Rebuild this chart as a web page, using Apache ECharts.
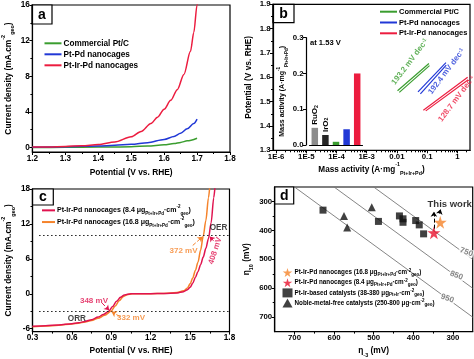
<!DOCTYPE html>
<html><head><meta charset="utf-8">
<script src="https://cdn.jsdelivr.net/npm/echarts@6/dist/echarts.min.js"></script>
<style>html,body{margin:0;padding:0;background:#fff}#c{width:474px;height:359px}</style>
</head><body><div id="c"></div>
<script>
// ---------- Panel a : LSV (OER) ----------
const aPotGreen = [1.2, 1.3, 1.4, 1.5, 1.55, 1.6, 1.63, 1.65, 1.67, 1.7];
const aGreen    = [0.0, 0.02, 0.05, 0.1, 0.17, 0.3, 0.45, 0.58, 0.75, 1.05];
const aPotBlue  = [1.2, 1.3, 1.4, 1.45, 1.5, 1.55, 1.6, 1.63, 1.65, 1.67, 1.69, 1.7];
const aBlue     = [0.04, 0.1, 0.18, 0.25, 0.36, 0.55, 0.9, 1.25, 1.6, 2.1, 2.7, 3.2];
const aPotRed   = [1.2, 1.25, 1.3, 1.35, 1.4, 1.45, 1.5, 1.53, 1.56, 1.58, 1.6, 1.62, 1.64, 1.66, 1.68, 1.69, 1.7, 1.705];
const aRed      = [0.05, 0.07, 0.12, 0.2, 0.33, 0.62, 1.2, 1.8, 2.7, 3.4, 4.3, 5.3, 6.5, 8.2, 10.8, 12.9, 16, 17.5];
const aXTicks = [1.2, 1.3, 1.4, 1.5, 1.6, 1.7, 1.8];
const aYTicks = [0, 4, 8, 12, 16];
const seriesNames = ['Commercial Pt/C', 'Pt-Pd nanocages', 'Pt-Ir-Pd nanocages'];

// ---------- Panel b : Tafel + inset ----------
const bGreen1 = [[0.0105, 1.545], [0.115, 1.657]];
const bGreen2 = [[0.012, 1.538], [0.12, 1.648]];
const bBlue1  = [[0.05, 1.54], [0.42, 1.66]];
const bBlue2  = [[0.06, 1.532], [0.43, 1.65]];
const bRed1   = [[0.075, 1.465], [2.2, 1.60]];
const bRed2   = [[0.09, 1.462], [2.3, 1.59]];
const bSlopes = ['193.2', '192.4', '128.7'];
const bXTicks = [1e-6, 1e-5, 1e-4, 1e-3, 0.01, 0.1, 1];
const bYTicks = [1.3, 1.4, 1.5, 1.6, 1.7, 1.8, 1.9];
const insetCats = ['RuO2', 'IrO2', 'Pt/C', 'Pt-Pd', 'Pt-Ir-Pd'];
const insetVals = [0.048, 0.028, 0.009, 0.044, 0.2];
const insetYTicks = [0, 0.1, 0.2, 0.3];

// ---------- Panel c : ORR / OER ----------
const cPotRed = [0.3, 0.4, 0.5, 0.6, 0.65, 0.7, 0.75, 0.8, 0.84, 0.88, 0.91, 0.94, 0.97, 1.0, 1.05, 1.1, 1.2, 1.3, 1.4, 1.45, 1.48, 1.5, 1.52, 1.54, 1.56, 1.58, 1.6, 1.62, 1.64, 1.66, 1.68, 1.69];
const cRed    = [-5.6, -5.5, -5.35, -5.15, -5.0, -4.75, -4.45, -4.0, -3.55, -3.0, -2.2, -1.3, -0.6, -0.2, 0.0, 0.02, 0.02, 0.05, 0.15, 0.35, 0.7, 1.1, 1.8, 2.8, 3.8, 5.0, 6.3, 7.8, 9.5, 12.2, 16.5, 18.5];
const cPotOrange = [0.3, 0.4, 0.5, 0.6, 0.65, 0.7, 0.75, 0.8, 0.85, 0.9, 0.93, 0.96, 0.99, 1.02, 1.06, 1.1, 1.2, 1.3, 1.4, 1.45, 1.48, 1.5, 1.52, 1.54, 1.56, 1.58, 1.6, 1.62, 1.64, 1.65];
const cOrange    = [-5.65, -5.55, -5.4, -5.2, -5.05, -4.85, -4.6, -4.2, -3.7, -2.95, -2.1, -1.2, -0.5, -0.15, 0.0, 0.0, 0.02, 0.05, 0.2, 0.5, 1.0, 1.7, 2.7, 4.0, 5.4, 7.5, 9.9, 12.6, 16.5, 18.5];
const cXTicks = [0.3, 0.6, 0.9, 1.2, 1.5, 1.8];
const cYTicks = [-6, 0, 6, 12, 18];
const cRefCurrents = [10, -3];

// ---------- Panel d : overpotential map ----------
const dStar168 = [[332, 372]];
const dStar84  = [[348, 408]];
const dPtIr = [[628, 330], [488, 369], [435, 350], [426, 360], [426, 372], [394, 366], [385, 381], [374, 412]];
const dNMF  = [[505, 320], [575, 350], [567, 390]];
const dIsoSums = [750, 850, 950];
const dTicks = [300, 400, 500, 600, 700];

// ---------- styling ----------
const FF = "'Liberation Sans',Arial,sans-serif";
const BLK = '#000';
const GREEN = '#3a9d2f', BLUE = '#2138d6', RED = '#ec1c3f', CRIMSON = '#e0134f', ORANGE = '#f5832b', GRAY = '#777';

function rich(fs, color) {
  const s = Math.max(4.5, fs * 0.65);
  return {
    sup: {fontSize: s, lineHeight: s, verticalAlign: 'top', fontWeight: 'bold', fontFamily: FF, color: color},
    sub: {fontSize: s, lineHeight: s, verticalAlign: 'bottom', fontWeight: 'bold', fontFamily: FF, color: color}
  };
}
function axis(o) {
  const nfs = o.nfs || 8.4;
  const a = {
    type: o.type || 'value', gridIndex: o.grid, position: o.pos,
    min: o.min, max: o.max, inverse: !!o.inverse, offset: o.offset || 0,
    axisLine: {show: o.line !== false, onZero: false, lineStyle: {color: BLK, width: 1.2}},
    axisTick: {show: !!o.ticks, length: o.tickLen || 3, inside: false, lineStyle: {color: BLK, width: 1}, customValues: o.ticks},
    axisLabel: {show: !!o.labels, customValues: o.ticks, formatter: o.fmt, color: BLK, fontFamily: FF, fontWeight: 'bold', fontSize: o.fs || 8.2, margin: 2.5},
    splitLine: {show: false}, minorTick: {show: false},
    name: o.name || '', nameLocation: 'middle', nameGap: o.nameGap || 20,
    nameTextStyle: {color: BLK, fontFamily: FF, fontWeight: 'bold', fontSize: nfs, lineHeight: nfs + 6, rich: rich(nfs, BLK)},
    silent: true
  };
  if (o.type === 'log') a.logBase = 10;
  if (o.type === 'category') { a.data = o.data; a.boundaryGap = true; }
  return a;
}
function minor(grid, pos, type, min, max, ticks, inverse) {
  return axis({grid: grid, pos: pos, type: type, min: min, max: max, inverse: inverse, line: false, ticks: ticks, tickLen: 2, labels: false});
}
const zip = (xs, ys) => xs.map((x, i) => [x, ys[i]]);
const logFmt = v => v < 0.005 ? '1E' + Math.round(Math.log10(v)) : String(+v.toPrecision(1));
const lineBase = {type: 'line', showSymbol: false, symbol: 'none', smooth: 0.3, smoothMonotone: 'x', clip: true, silent: true};
function noteSeries(xi, yi, items) {
  return {
    type: 'scatter', xAxisIndex: xi, yAxisIndex: yi, symbolSize: 1, itemStyle: {color: 'rgba(0,0,0,0)'}, silent: true, z: 5,
    data: items.map(it => ({value: it.at, label: Object.assign({show: true, position: 'inside', formatter: it.text, color: it.color || BLK,
      fontFamily: FF, fontWeight: 'bold', fontSize: it.fs || 8, rotate: it.rot || 0, rich: rich(it.fs || 8, it.color || BLK)}, it.extra || {})}))
  };
}
function arrow(from, to, color) {
  return [{coord: from, symbol: 'none', lineStyle: {color: color, width: 1}}, {coord: to, symbol: 'arrow', symbolSize: 5}];
}

const frame = {show: true, borderColor: BLK, borderWidth: 1.2, backgroundColor: 'rgba(0,0,0,0)'};
const minorA = {x: [1.25, 1.35, 1.45, 1.55, 1.65, 1.75], y: [2, 6, 10, 14]};
const minorB = {x: [], y: [1.35, 1.45, 1.55, 1.65, 1.75, 1.85]};
for (let e = -6; e <= 0; e++) for (let m = 2; m <= 9; m++) minorB.x.push(+(m * Math.pow(10, e)).toPrecision(2));
const minorC = {x: [0.45, 0.75, 1.05, 1.35, 1.65], y: [-3, 3, 9, 15]};
const minorD = [350, 450, 550, 650];

const xAxis = [
  axis({grid: 0, pos: 'bottom', min: 1.2, max: 1.8, ticks: aXTicks, labels: true, name: 'Potential (V vs. RHE)', nameGap: 13}),
  axis({grid: 1, pos: 'bottom', type: 'log', min: 7.9e-7, max: 2.63, ticks: bXTicks, labels: true, fmt: logFmt, fs: 7.8, name: 'Mass activity (A·mg{sup|-1}{sub|Pt+Ir+Pd})', nameGap: 12, nfs: 8.2}),
  axis({grid: 2, pos: 'bottom', type: 'category', data: insetCats, ticks: null, labels: false}),
  axis({grid: 3, pos: 'bottom', min: 0.3, max: 1.8, ticks: cXTicks, labels: true, name: 'Potential (V vs. RHE)', nameGap: 12}),
  axis({grid: 4, pos: 'bottom', min: 250, max: 750, inverse: true, ticks: dTicks, labels: true, fs: 7.8, name: 'η{sub|-3} (mV)', nameGap: 12}),
  minor(0, 'bottom', 'value', 1.2, 1.8, minorA.x),
  minor(1, 'bottom', 'log', 7.9e-7, 2.63, minorB.x),
  minor(3, 'bottom', 'value', 0.3, 1.8, minorC.x),
  minor(4, 'bottom', 'value', 250, 750, minorD, true)
];
const yAxis = [
  axis({grid: 0, pos: 'left', min: -0.5, max: 16, ticks: aYTicks, labels: true, name: 'Current density (mA.cm{sup|-2}{sub|geo})', nameGap: 17}),
  axis({grid: 1, pos: 'left', min: 1.3, max: 1.9, ticks: bYTicks, labels: true, fs: 7.8, name: 'Potential (V vs. RHE)', nameGap: 17}),
  axis({grid: 2, pos: 'left', min: 0, max: 0.3, offset: 3.5, ticks: insetYTicks, labels: true, fs: 7.8, fmt: v => v.toFixed(1), name: 'Mass activity (A·mg{sup|-1}{sub|Pt+Ir+Pd})', nameGap: 14, nfs: 7}),
  axis({grid: 3, pos: 'left', min: -6.5, max: 18, ticks: cYTicks, labels: true, name: 'Current density (mA.cm{sup|-2}{sub|geo})', nameGap: 17}),
  axis({grid: 4, pos: 'left', min: 250, max: 750, inverse: true, ticks: dTicks, labels: true, fs: 7.8, name: 'η{sub|10} (mV)', nameGap: 21}),
  minor(0, 'left', 'value', -0.5, 16, minorA.y),
  minor(1, 'left', 'value', 1.3, 1.9, minorB.y),
  minor(3, 'left', 'value', -6.5, 18, minorC.y),
  minor(4, 'left', 'value', 250, 750, minorD, true)
];

const series = [];
// panel a
[[aPotGreen, aGreen, GREEN], [aPotBlue, aBlue, BLUE], [aPotRed, aRed, RED]].forEach((s, i) => {
  series.push(Object.assign({}, lineBase, {name: seriesNames[i], xAxisIndex: 0, yAxisIndex: 0, data: zip(s[0], s[1]), color: s[2], lineStyle: {width: 1.5, color: s[2]}}));
});
// panel b tafel
[[bGreen1, bGreen2, GREEN], [bBlue1, bBlue2, BLUE], [bRed1, bRed2, RED]].forEach((s, i) => {
  [s[0], s[1]].forEach(d => series.push(Object.assign({}, lineBase, {smooth: false, name: seriesNames[i], xAxisIndex: 1, yAxisIndex: 1, data: d, color: s[2], lineStyle: {width: 1.2, color: s[2]}})));
});
series.push(noteSeries(1, 1, [
  {at: [0.027, 1.664], text: bSlopes[0] + ' mV dec{sup|-1}', color: GREEN, rot: 53, fs: 8},
  {at: [0.44, 1.624], text: bSlopes[1] + ' mV dec{sup|-1}', color: BLUE, rot: 53, fs: 8},
  {at: [0.95, 1.512], text: bSlopes[2] + ' mV dec{sup|-1}', color: RED, rot: 53, fs: 8}
]));
// inset bars
const insetColors = ['#8c8c8c', '#262626', GREEN, BLUE, RED];
series.push({
  type: 'bar', xAxisIndex: 2, yAxisIndex: 2, barWidth: 6.5, silent: true,
  data: insetVals.map((v, i) => ({value: v, itemStyle: {color: insetColors[i]},
    label: i < 2 ? {show: true, position: 'top', rotate: 90, align: 'left', verticalAlign: 'middle', distance: 3,
      formatter: insetCats[i].replace('2', '{sub|2}'), color: BLK, fontFamily: FF, fontWeight: 'bold', fontSize: 8, rich: rich(8, BLK)} : {show: false}}))
});
// panel c
series.push(Object.assign({}, lineBase, {name: 'c84', xAxisIndex: 3, yAxisIndex: 3, data: zip(cPotRed, cRed), color: CRIMSON, lineStyle: {width: 1.5, color: CRIMSON}, z: 3,
  markLine: {silent: true, symbol: ['none', 'none'], label: {show: false}, animation: false,
    data: cRefCurrents.map(v => [{coord: [0.35, v], lineStyle: {type: [1.5, 2.5], color: '#222', width: 1.2}}, {coord: [1.8, v]}])
      .concat([arrow([0.83, -1.6], [0.884, -2.85], CRIMSON), arrow([1.678, 9.1], [1.65, 9.85], CRIMSON)])}}));
series.push(Object.assign({}, lineBase, {name: 'c168', xAxisIndex: 3, yAxisIndex: 3, data: zip(cPotOrange, cOrange), color: ORANGE, lineStyle: {width: 1.5, color: ORANGE}, z: 2,
  markLine: {silent: true, symbol: ['none', 'none'], label: {show: false}, animation: false,
    data: [arrow([0.965, -3.9], [0.902, -3.1], ORANGE), arrow([1.52, 8.3], [1.595, 9.8], ORANGE)]}}));
series.push(noteSeries(3, 3, [
  {at: [0.768, -1.14], text: '348 mV', color: CRIMSON},
  {at: [1.05, -4.2], text: '332 mV', color: ORANGE},
  {at: [1.45, 7.36], text: '372 mV', color: ORANGE},
  {at: [1.691, 7.4], text: '408 mV', color: CRIMSON, rot: 72},
  {at: [1.717, 11.3], text: 'OER', color: '#111', fs: 8.2},
  {at: [0.638, -4.37], text: 'ORR', color: '#111', fs: 8.2}
]));
// panel d
dIsoSums.forEach(s => series.push({type: 'line', xAxisIndex: 4, yAxisIndex: 4, showSymbol: false, symbol: 'none', silent: true, clip: true,
  data: [[s - 250, 250], [250, s - 250]], lineStyle: {color: GRAY, width: 0.9}, z: 1}));
const STAR = 'path://M50,0 L61,35 L98,35 L68,57 L79,91 L50,70 L21,91 L32,57 L2,35 L39,35 Z';
series.push({type: 'scatter', name: 'dPtIr', xAxisIndex: 4, yAxisIndex: 4, symbol: 'rect', symbolSize: 7, data: dPtIr, color: '#111', silent: true});
series.push({type: 'scatter', name: 'dNMF', xAxisIndex: 4, yAxisIndex: 4, symbol: 'triangle', symbolSize: 8, data: dNMF, color: '#111', silent: true});
series.push({type: 'scatter', name: 'dS168', xAxisIndex: 4, yAxisIndex: 4, symbol: STAR, symbolSize: 13, data: dStar168, color: ORANGE, silent: true, z: 4});
series.push({type: 'scatter', name: 'dS84', xAxisIndex: 4, yAxisIndex: 4, symbol: STAR, symbolSize: 13, data: dStar84, color: '#e8112d', silent: true, z: 4,
  markLine: {silent: true, symbol: ['none', 'none'], label: {show: false}, animation: false,
    data: [arrow([348, 394], [348, 336], BLK), arrow([334, 342], [331, 327], BLK)]}});
series.push(noteSeries(4, 4, [
  {at: [308, 309], text: 'This work', fs: 9.5},
  {at: [266, 475], text: String(dIsoSums[0]), color: '#666', fs: 8, rot: -20, extra: {backgroundColor: '#fff', padding: [0, 1]}},
  {at: [291, 556], text: String(dIsoSums[1]), color: '#666', fs: 8, rot: -20, extra: {backgroundColor: '#fff', padding: [0, 1]}},
  {at: [314, 635], text: String(dIsoSums[2]), color: '#666', fs: 8, rot: -20, extra: {backgroundColor: '#fff', padding: [0, 1]}}
]));

const legendText = {
  c84: 'Pt-Ir-Pd nanocages (8.4 μg{sub|Pt+Ir+Pd}·cm{sup|-2}{sub|geo})',
  c168: 'Pt-Ir-Pd nanocages (16.8 μg{sub|Pt+Ir+Pd}·cm{sup|-2}{sub|geo})',
  dS168: 'Pt-Ir-Pd nanocages (16.8 μg{sub|Pt+Ir+Pd}·cm{sup|-2}{sub|geo})',
  dS84: 'Pt-Ir-Pd nanocages (8.4 μg{sub|Pt+Ir+Pd}·cm{sup|-2}{sub|geo})',
  dPtIr: 'Pt-Ir-based catalysts (38-380 μg{sub|Pt+Ir}·cm{sup|-2}{sub|geo})',
  dNMF: 'Noble-metal-free catalysts (250-800 μg·cm{sup|-2}{sub|geo})'
};
const legTxt = (fs, lh) => ({color: BLK, fontFamily: FF, fontWeight: 'bold', fontSize: fs, lineHeight: lh, padding: [0, 0, 0, -3], rich: rich(fs, BLK)});
const legend = [
  {left: 44.5, top: 38.3, orient: 'vertical', padding: 0, icon: 'rect', itemWidth: 17, itemHeight: 2, itemGap: 1, selectedMode: false, data: seriesNames, textStyle: legTxt(8.2, 10)},
  {left: 380, top: 6.7, orient: 'vertical', padding: 0, icon: 'rect', itemWidth: 17, itemHeight: 2, itemGap: 0.8, selectedMode: false, data: seriesNames, textStyle: legTxt(7.5, 10)},
  {left: 42, top: 204.5, orient: 'vertical', padding: 0, icon: 'rect', itemWidth: 13, itemHeight: 2, itemGap: 0, selectedMode: false, data: ['c84', 'c168'], formatter: n => legendText[n], textStyle: legTxt(7, 11.7)},
  {left: 282.5, top: 268, orient: 'vertical', padding: 0, itemWidth: 10, itemHeight: 9, itemGap: 1.2, selectedMode: false, data: ['dS168', 'dS84', 'dPtIr', 'dNMF'], formatter: n => legendText[n], textStyle: legTxt(6.3, 9)}
];

function letterBox(x, y, w, h, t) {
  return {type: 'group', children: [
    {type: 'rect', shape: {x: x, y: y, width: w, height: h}, style: {fill: '#fff', stroke: BLK, lineWidth: 1.2}},
    {type: 'text', x: x + w / 2, y: y + h / 2 + 0.5, style: {text: t, font: 'bold 14px ' + FF, fill: BLK, align: 'center', verticalAlign: 'middle'}}
  ]};
}
const graphic = [
  letterBox(32, 5, 20, 19, 'a'),
  letterBox(273, 4.3, 21, 18.4, 'b'),
  letterBox(32.5, 189, 20.8, 16, 'c'),
  letterBox(274.7, 187, 19, 17, 'd'),
  {type: 'text', x: 310, y: 42.7, style: {text: 'at 1.53 V', font: 'bold 7.6px ' + FF, fill: BLK, align: 'left', verticalAlign: 'middle'}}
];

const chart = echarts.init(document.getElementById('c'), null, {renderer: 'canvas'});
chart.setOption({
  animation: false, backgroundColor: '#fff',
  grid: [
    Object.assign({left: 32, top: 5, width: 198, height: 147}, frame),
    Object.assign({left: 273, top: 4.3, width: 197, height: 146}, frame),
    {left: 309.5, top: 37.7, width: 53, height: 107.3, show: false},
    Object.assign({left: 32.5, top: 189, width: 197, height: 144}, frame),
    Object.assign({left: 274.7, top: 187, width: 198, height: 145}, frame)
  ],
  xAxis: xAxis, yAxis: yAxis, series: series, legend: legend, graphic: graphic
});
</script></body></html>
